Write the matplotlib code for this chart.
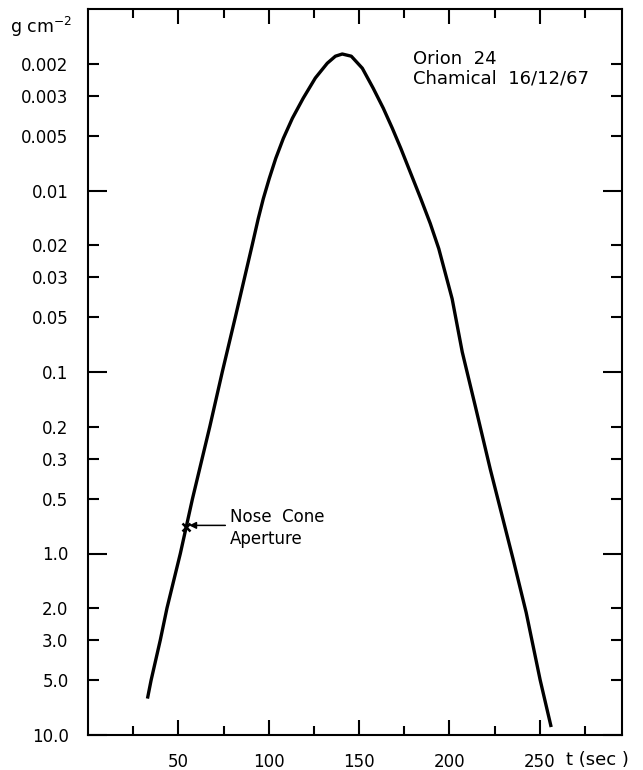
import matplotlib
matplotlib.use("Agg")
import matplotlib.pyplot as plt

# Datos (tiempo en s, masa en g cm^-2)
tiempos = [32.9, 34.9, 40.0, 43.7, 51.1, 57.8, 67.4, 74.3, 81.5, 90.9, 94.2, 97.0,
           100.3, 103.9, 108.1, 113.1, 119.1, 125.8, 132.4, 136.9, 140.7, 145.7,
           151.8, 157.8, 163.4, 168.4, 173.1, 178.6, 184.1, 189.4, 194.1, 201.5,
           207.1, 214.3, 222.6, 235.3, 242.5, 250.2, 256.3]
masas = [6.3, 5.0, 3.0, 2.0, 1.0, 0.5, 0.2, 0.1, 0.05, 0.0199, 0.0143, 0.0111,
         0.00859, 0.00665, 0.00516, 0.0040, 0.0031, 0.0024, 0.00199, 0.00182, 0.00177,
         0.00182, 0.00212, 0.00273, 0.00352, 0.00454, 0.00586, 0.00805, 0.01106,
         0.0152, 0.0209, 0.0395, 0.0776, 0.154, 0.343, 1.08, 2.12, 4.97, 9.04]

# Marca de la apertura del cono
cono_t = 54.4
cono_m = 0.71

# Ticks y etiquetas
x_mayores = [50, 100, 150, 200, 250]
x_menores = [25, 75, 125, 175, 225, 275]
y_mayores = [0.01, 0.1, 1.0, 10.0]
y_mayores_txt = ["0.01", "0.1", "1.0", "10.0"]
y_menores = [0.002, 0.003, 0.005, 0.02, 0.03, 0.05, 0.2, 0.3, 0.5, 2.0, 3.0, 5.0]
y_menores_txt = ["0.002", "0.003", "0.005", "0.02", "0.03", "0.05",
                 "0.2", "0.3", "0.5", "2.0", "3.0", "5.0"]


def grafico_orion():
    fig = plt.figure(figsize=(6.43, 7.70), dpi=100)
    ax = fig.add_axes([88 / 643, 1 - 735 / 770, (622 - 88) / 643, (735 - 9) / 770])

    ax.plot(tiempos, masas, color="black", lw=2.4, solid_joinstyle="round",
            solid_capstyle="butt")
    ax.plot([cono_t], [cono_m], marker="x", ms=6, mew=1.8, color="black")

    ax.set_yscale("log")
    ax.set_xlim(0, 295.5)
    ax.set_ylim(10.0, 0.001)  # eje invertido, como en el original

    ax.set_xticks(x_mayores)
    ax.set_xticks(x_menores, minor=True)
    ax.set_yticks(y_mayores, labels=y_mayores_txt)
    ax.set_yticks(y_menores, labels=y_menores_txt, minor=True)

    ax.tick_params(which="both", direction="in", top=True, right=True,
                   width=1.5, labelsize=12, color="black")
    ax.tick_params(axis="y", which="major", length=14, pad=14)
    ax.tick_params(axis="y", which="minor", length=8, pad=14, labelsize=12)
    ax.tick_params(axis="x", which="major", length=11, pad=13)
    ax.tick_params(axis="x", which="minor", length=6.5)

    for lado in ax.spines.values():
        lado.set_linewidth(1.5)

    # Anotacion de la apertura
    ax.annotate("", xy=(56.0, 0.70), xytext=(76.0, 0.70),
                arrowprops=dict(arrowstyle="-|>", lw=1.1, color="black",
                                mutation_scale=10, shrinkA=0, shrinkB=0))
    ax.text(78.5, 0.72, "Nose  Cone\nAperture", fontsize=12, va="center",
            ha="left", linespacing=1.3)

    fig.text(413 / 643, 1 - 69 / 770, "Orion  24\nChamical  16/12/67",
             fontsize=13, ha="left", va="center", linespacing=1.1)

    fig.text(10 / 643, 1 - 33 / 770, "g cm$^{-2}$", fontsize=12.5, va="baseline")
    fig.text(566 / 643, 1 - 760 / 770, "t (sec )", fontsize=13, va="center")

    fig.savefig("out.png", dpi=100)


grafico_orion()
